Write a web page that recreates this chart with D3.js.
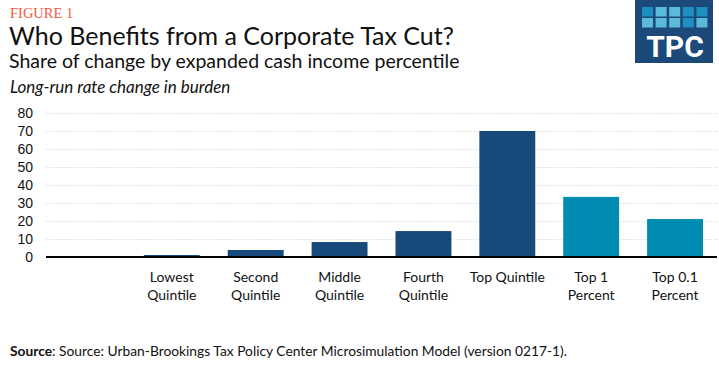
<!DOCTYPE html>
<html>
<head>
<meta charset="utf-8">
<script src="https://cdn.jsdelivr.net/npm/d3@7"></script>
<style>
  body { margin: 0; background: #fff; }
  svg { display: block; }
</style>
</head>
<body>
<svg id="chart" width="719" height="384"></svg>
<script>
// data
let groups = ["", "Lowest Quintile", "Second Quintile", "Middle Quintile", "Fourth Quintile",
              "Top Quintile", "Top 1 Percent", "Top 0.1 Percent"];
let labelLines = [[], ["Lowest", "Quintile"], ["Second", "Quintile"], ["Middle", "Quintile"],
                  ["Fourth", "Quintile"], ["Top Quintile"], ["Top 1", "Percent"], ["Top 0.1", "Percent"]];
let shares = [null, 1.1, 3.9, 8.3, 14.4, 70.0, 33.4, 21.1];
let yTicks = [0, 10, 20, 30, 40, 50, 60, 70, 80];

let svg = d3.select("#chart");

let x = d3.scaleBand().domain(groups).range([46, 717]).paddingInner(1 / 3).paddingOuter(1 / 6);
let y = d3.scaleLinear().domain([0, 80]).range([257, 113]);

// header
svg.append("text")
    .attr("x", 10).attr("y", 18)
    .attr("font-family", "Liberation Serif, serif")
    .attr("font-size", "14.5px")
    .attr("fill", "#f05a3f")
    .text("FIGURE 1");

svg.append("text")
    .attr("x", 9).attr("y", 45)
    .attr("font-family", "Lato, sans-serif")
    .attr("font-size", "25px")
    .attr("fill", "#111")
    .text("Who Benefits from a Corporate Tax Cut?");

svg.append("text")
    .attr("x", 9).attr("y", 68)
    .attr("font-family", "Lato, sans-serif")
    .attr("font-size", "19.5px")
    .attr("fill", "#111")
    .text("Share of change by expanded cash income percentile");

svg.append("text")
    .attr("x", 10).attr("y", 93)
    .attr("font-family", "Lato, sans-serif")
    .attr("font-style", "italic")
    .attr("font-size", "17px")
    .attr("fill", "#111")
    .text("Long-run rate change in burden");

// logo
let logo = svg.append("g").attr("transform", "translate(635,0)");
logo.append("rect").attr("width", 78).attr("height", 63).attr("fill", "#1b4a7a");
let tileCols = [["#1e8fbf", "#5cbad9"], ["#5cbad9", "#5cbad9"], ["#5cbad9", "#5cbad9"],
                ["#1e8fbf", "#1e8fbf"], ["#1e8fbf", "#5cbad9"]];
tileCols.forEach(function(c, i) {
    c.forEach(function(col, j) {
        logo.append("rect")
            .attr("x", 7 + i * 13.6).attr("y", 7 + j * 11)
            .attr("width", 11).attr("height", 9.5)
            .attr("fill", col);
    });
});
logo.append("text")
    .attr("x", 40).attr("y", 57)
    .attr("text-anchor", "middle")
    .attr("font-family", "Roboto, sans-serif")
    .attr("font-weight", "bold")
    .attr("font-size", "30px")
    .attr("fill", "#fff")
    .text("TPC");

// grid lines
svg.append("g")
    .selectAll("line")
    .data(yTicks.filter(function(d) { return d > 0; }))
    .enter().append("line")
    .attr("x1", 46).attr("x2", 717)
    .attr("y1", function(d) { return y(d) + 0.5; })
    .attr("y2", function(d) { return y(d) + 0.5; })
    .attr("stroke", "#d4d4d4")
    .attr("stroke-dasharray", "1,1.5");

// y axis
let yAxis = svg.append("g")
    .attr("transform", "translate(33,0)")
    .call(d3.axisLeft(y).tickValues(yTicks).tickSize(0).tickPadding(0));
yAxis.select(".domain").remove();
yAxis.selectAll("text")
    .attr("font-family", "Liberation Sans, Arial, sans-serif")
    .attr("font-size", "14px")
    .attr("fill", "#111");

// bars
svg.selectAll(".bar")
    .data(groups.slice(1))
    .enter().append("rect")
    .attr("class", "bar")
    .attr("x", function(d) { return x(d); })
    .attr("width", x.bandwidth())
    .attr("y", function(d) { return y(shares[groups.indexOf(d)]); })
    .attr("height", function(d) { return y(0) - y(shares[groups.indexOf(d)]); })
    .attr("fill", function(d) { return groups.indexOf(d) >= 6 ? "#008bb1" : "#17497b"; });

// baseline
svg.append("line")
    .attr("x1", 46).attr("x2", 717)
    .attr("y1", y(0)).attr("y2", y(0))
    .attr("stroke", "#000")
    .attr("stroke-width", 2);

// x labels
let xl = svg.append("g")
    .selectAll("text")
    .data(groups)
    .enter().append("text")
    .attr("x", function(d) { return x(d) + x.bandwidth() / 2; })
    .attr("y", 282)
    .attr("text-anchor", "middle")
    .attr("font-family", "Lato, sans-serif")
    .attr("font-size", "14px")
    .attr("fill", "#111");
xl.each(function(d, i) {
    let t = d3.select(this);
    labelLines[i].forEach(function(line, k) {
        t.append("tspan")
            .attr("x", x(d) + x.bandwidth() / 2)
            .attr("dy", k === 0 ? 0 : 18)
            .text(line);
    });
});

// source
let src = svg.append("text")
    .attr("x", 10).attr("y", 356)
    .attr("font-family", "Lato, sans-serif")
    .attr("font-size", "13.8px")
    .attr("fill", "#111");
src.append("tspan").attr("font-weight", "bold").text("Source");
src.append("tspan").text(": Source: Urban-Brookings Tax Policy Center Microsimulation Model (version 0217-1).");
</script>
</body>
</html>
